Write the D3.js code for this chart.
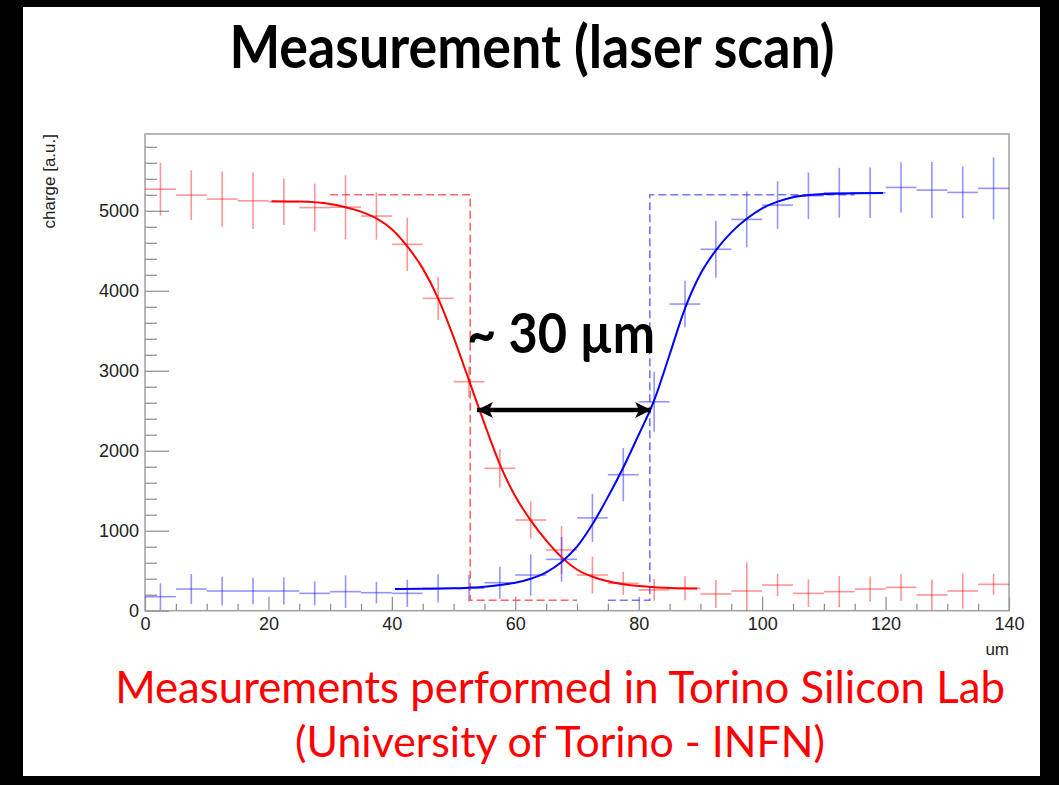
<!DOCTYPE html>
<html>
<head>
<meta charset="utf-8">
<script src="https://cdn.jsdelivr.net/npm/d3@7"></script>
<style>
  body { margin: 0; background: #000; }
  svg { display: block; }
</style>
</head>
<body>
<svg id="chart"></svg>
<script>
// Size of the slide
var width = 1059;
var height = 785;

// Bin centres of the laser scan (bin width 5 um)
const binCenter = [2.5, 7.5, 12.5, 17.5, 22.5, 27.5, 32.5, 37.5, 42.5, 47.5, 52.5, 57.5, 62.5, 67.5,
                   72.5, 77.5, 82.5, 87.5, 92.5, 97.5, 102.5, 107.5, 112.5, 117.5, 122.5, 127.5, 132.5, 137.5];
const binHalf = 2.5;

// Red pad: measured charge and error
const redCharge = [5270, 5196, 5146, 5125, 5113, 5040, 5045, 4934, 4580, 3905, 2863, 1780, 1134, 759,
                   446, 342, 260, 280, 209, 246, 321, 217, 238, 271, 292, 196, 246, 330];
const redErr = [330, 310, 345, 354, 290, 300, 400, 296, 333, 270, 190, 240, 230, 300,
                230, 145, 135, 150, 175, 354, 140, 173, 195, 156, 170, 190, 220, 130];

// Blue pad: measured charge and error
const blueCharge = [175, 271, 246, 246, 246, 217, 238, 225, 217, 280, 280, 350, 446, 642,
                    1160, 1700, 2612, 3834, 4519, 4892, 5071, 5188, 5225, 5225, 5292, 5259, 5230, 5280];
const blueErr = [166, 188, 177, 166, 170, 150, 204, 135, 170, 177, 165, 200, 260, 280,
                 300, 333, 375, 290, 356, 348, 298, 292, 312, 316, 315, 350, 323, 388];

// Fit curves
const redFitX = [20.5, 25, 30, 32.5, 35, 37.5, 40, 42.5, 45, 47.5, 50, 52.5, 55, 57.5, 60,
                 62.5, 65, 67.5, 70, 72.5, 75, 77.5, 80, 82.5, 85, 89.5];
const redFitY = [5120, 5115, 5085, 5045, 4990, 4905, 4770, 4555, 4280, 3905, 3420, 2880, 2340, 1830, 1430,
                 1130, 880, 670, 515, 425, 368, 332, 308, 293, 284, 277];
const blueFitX = [40.5, 45, 50, 52.5, 55, 57.5, 60, 62.5, 65, 67.5, 70, 72.5, 75, 77.5, 80, 82.5, 85,
                  87.5, 90, 92.5, 95, 97.5, 100, 102.5, 105, 107.5, 110, 115, 119.6];
const blueFitY = [272, 275, 280, 288, 300, 321, 350, 400, 480, 610, 800, 1080, 1420, 1790, 2200, 2630, 3200,
                  3780, 4210, 4505, 4730, 4900, 5030, 5115, 5170, 5196, 5210, 5218, 5222];

// Simulated (ideal) pad response, dashed
const redBoxX = [30, 52.7, 52.7, 70];
const redBoxY = [5200, 5200, 130, 130];
const blueBoxX = [75, 81.8, 81.8, 115];
const blueBoxY = [130, 130, 5200, 5200];

// Axis ticks
const xMajor = [0, 20, 40, 60, 80, 100, 120, 140];
const yMajor = [0, 1000, 2000, 3000, 4000, 5000];

// Annotation: distance between the two 50% points
const arrowFrom = 53.8, arrowTo = 82.0, arrowAt = 2510;

const svg = d3.select("#chart").attr("width", width).attr("height", height);

// black slide border and white page
svg.append("rect").attr("width", width).attr("height", height).attr("fill", "#000");
svg.append("rect").attr("x", 23).attr("y", 7).attr("width", 1017).attr("height", 769).attr("fill", "#fff");

const x = d3.scaleLinear().domain([0, 140]).range([145, 1009]);
const y = d3.scaleLinear().domain([0, 5960]).range([610.7, 134]);

// minor ticks
const xMinor = x.ticks(28).filter(v => !xMajor.includes(v));
const yMinor = y.ticks(30).filter(v => v % 200 === 0 && !yMajor.includes(v));

const axisColor = "#8c8c8c";
const tickFont = "18px 'Liberation Sans', Arial, sans-serif";

svg.append("g")
    .attr("transform", `translate(0,${y(0)})`)
    .call(d3.axisBottom(x).tickValues(xMinor).tickSize(-7).tickFormat(""))
    .call(g => g.select(".domain").remove())
    .call(g => g.selectAll("line").attr("stroke", axisColor).attr("stroke-width", 1.2));

svg.append("g")
    .attr("transform", `translate(0,${y(0)})`)
    .call(d3.axisBottom(x).tickValues(xMajor).tickSize(-14).tickPadding(7).tickFormat(d3.format("d")))
    .call(g => g.select(".domain").remove())
    .call(g => g.selectAll("line").attr("stroke", axisColor).attr("stroke-width", 1.2))
    .call(g => g.selectAll("text").attr("fill", "#222").style("font", tickFont));

svg.append("g")
    .attr("transform", `translate(${x(0)},0)`)
    .call(d3.axisLeft(y).tickValues(yMinor).tickSize(-12).tickFormat(""))
    .call(g => g.select(".domain").remove())
    .call(g => g.selectAll("line").attr("stroke", axisColor).attr("stroke-width", 1.2));

svg.append("g")
    .attr("transform", `translate(${x(0)},0)`)
    .call(d3.axisLeft(y).tickValues(yMajor).tickSize(-24).tickPadding(6).tickFormat(d3.format("d")))
    .call(g => g.select(".domain").remove())
    .call(g => g.selectAll("line").attr("stroke", axisColor).attr("stroke-width", 1.2))
    .call(g => g.selectAll("text").attr("fill", "#222").style("font", tickFont));

// frame
svg.append("rect")
    .attr("x", x(0)).attr("y", y(5960))
    .attr("width", x(140) - x(0)).attr("height", y(0) - y(5960))
    .attr("fill", "none").attr("stroke", "#a0a0a0").attr("stroke-width", 1.5);

// axis titles
svg.append("text")
    .attr("transform", `translate(55,${y(5960)}) rotate(-90)`)
    .attr("text-anchor", "end")
    .attr("fill", "#222")
    .style("font", "17px 'Liberation Sans', Arial, sans-serif")
    .text("charge [a.u.]");

svg.append("text")
    .attr("x", x(140)).attr("y", 655)
    .attr("text-anchor", "end")
    .attr("fill", "#222")
    .style("font", "17px 'Liberation Sans', Arial, sans-serif")
    .text("um");

// histogram points with error crosses
var drawPoints = function(values, errs, color) {
    const pts = binCenter.map((c, i) => ({c: c, v: values[i], e: errs[i]}));
    const g = svg.append("g").attr("stroke", color).attr("stroke-opacity", 0.42).attr("stroke-width", 1.6);
    g.selectAll(".hbar").data(pts).join("line")
        .attr("x1", d => x(d.c - binHalf)).attr("x2", d => x(d.c + binHalf))
        .attr("y1", d => y(d.v)).attr("y2", d => y(d.v));
    g.selectAll(".vbar").data(pts).join("line")
        .attr("x1", d => x(d.c)).attr("x2", d => x(d.c))
        .attr("y1", d => y(Math.max(0, d.v - d.e))).attr("y2", d => y(d.v + d.e));
}

drawPoints(redCharge, redErr, "#ff0000");
drawPoints(blueCharge, blueErr, "#0000ff");

// dashed ideal responses
const path = d3.line().x(d => x(d[0])).y(d => y(d[1]));
svg.append("path")
    .attr("d", path(d3.zip(redBoxX, redBoxY)))
    .attr("fill", "none").attr("stroke", "#ff3030").attr("stroke-opacity", 0.75)
    .attr("stroke-width", 1.6).attr("stroke-dasharray", "8,4");
svg.append("path")
    .attr("d", path(d3.zip(blueBoxX, blueBoxY)))
    .attr("fill", "none").attr("stroke", "#3a3aff").attr("stroke-opacity", 0.7)
    .attr("stroke-width", 1.6).attr("stroke-dasharray", "8,4");

// fits
const fitLine = d3.line().x(d => x(d[0])).y(d => y(d[1])).curve(d3.curveMonotoneX);
svg.append("path")
    .attr("d", fitLine(d3.zip(redFitX, redFitY)))
    .attr("fill", "none").attr("stroke", "#ff0000").attr("stroke-width", 2);
svg.append("path")
    .attr("d", fitLine(d3.zip(blueFitX, blueFitY)))
    .attr("fill", "none").attr("stroke", "#0000ff").attr("stroke-width", 2);

// double arrow
const defs = svg.append("defs");
["start", "end"].forEach(function(k) {
    defs.append("marker")
        .attr("id", "arrow-" + k)
        .attr("viewBox", "0 0 10 10")
        .attr("refX", k === "end" ? 10 : 0).attr("refY", 5)
        .attr("markerUnits", "userSpaceOnUse")
        .attr("markerWidth", 17).attr("markerHeight", 16)
        .attr("orient", "auto")
        .append("path")
        .attr("d", k === "end" ? "M0,0 L10,5 L0,10 L2.5,5 Z" : "M10,0 L0,5 L10,10 L7.5,5 Z")
        .attr("fill", "#000");
});
svg.append("line")
    .attr("x1", x(arrowFrom)).attr("x2", x(arrowTo))
    .attr("y1", y(arrowAt)).attr("y2", y(arrowAt))
    .attr("stroke", "#000").attr("stroke-width", 4.5)
    .attr("marker-start", "url(#arrow-start)")
    .attr("marker-end", "url(#arrow-end)");

// slide text: fitted to the width, optionally a bit taller than Lato (Calibri look)
var slideText = function(tx, ty, anchor, weight, color, w, str, stretch) {
    const t = svg.append("g")
        .attr("transform", `translate(${tx},${ty}) scale(1,${stretch})`)
        .append("text")
        .attr("text-anchor", anchor)
        .attr("font-family", "Lato, 'Open Sans', sans-serif").attr("font-weight", weight)
        .attr("font-size", 40).attr("fill", color)
        .text(str);
    const cur = t.node().getComputedTextLength();
    t.attr("font-size", 40 * w / cur);
    return t;
}

slideText(467, 353, "start", 700, "#000", 188, "~ 30 µm", 1.1);
slideText(532, 68, "middle", 700, "#000", 605, "Measurement (laser scan)", 1.1);
slideText(560, 703, "middle", 400, "#ff0000", 890, "Measurements performed in Torino Silicon Lab", 1);
slideText(560, 757, "middle", 400, "#ff0000", 530, "(University of Torino - INFN)", 1);
</script>
</body>
</html>
